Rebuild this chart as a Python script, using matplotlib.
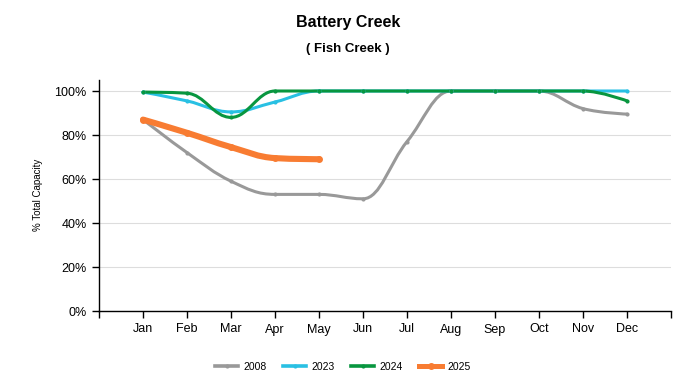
#!/usr/bin/env python3
"""Battery Creek reservoir capacity by month."""

import matplotlib

matplotlib.use("Agg")
import matplotlib.pyplot as plt
import numpy as np
from matplotlib.lines import Line2D
from matplotlib.path import Path
from matplotlib.patches import PathPatch

plt.rcParams["font.family"] = ["Liberation Sans", "DejaVu Sans"]

months = ["Jan", "Feb", "Mar", "Apr", "May", "Jun", "Jul", "Aug", "Sep", "Oct", "Nov", "Dec"]
pct_2008 = [87, 72, 59, 53, 53, 51, 77, 100, 100, 100, 92, 89.5]
pct_2023 = [99.5, 95.5, 90.5, 95, 100, 100, 100, 100, 100, 100, 100, 100]
pct_2024 = [99.5, 99, 88, 100, 100, 100, 100, 100, 100, 100, 100, 95.5]
pct_2025 = [87, 81, 74.5, 69.5, 69]

series = [
    ("2008", pct_2008, "#999999", 2.2),
    ("2023", pct_2023, "#29c0e3", 2.2),
    ("2024", pct_2024, "#08963f", 2.2),
    ("2025", pct_2025, "#f87c32", 4.4),
]


def spline_path(xs, ys, smoothing=1.5):
    # smooth curve through the points, in the style of a charting spline
    denom = smoothing + 1
    n = len(xs)
    left = [None] * n
    right = [None] * n
    for i in range(1, n - 1):
        px, py = xs[i], ys[i]
        lx, ly = xs[i - 1], ys[i - 1]
        nx, ny = xs[i + 1], ys[i + 1]
        lcx = (smoothing * px + lx) / denom
        lcy = (smoothing * py + ly) / denom
        rcx = (smoothing * px + nx) / denom
        rcy = (smoothing * py + ny) / denom
        if rcx != lcx:
            corr = (rcy - lcy) * (rcx - px) / (rcx - lcx) + py - rcy
            lcy += corr
            rcy += corr
        if lcy > max(ly, py):
            lcy = max(ly, py)
            rcy = 2 * py - lcy
        elif lcy < min(ly, py):
            lcy = min(ly, py)
            rcy = 2 * py - lcy
        if rcy > max(py, ny):
            rcy = max(py, ny)
            lcy = 2 * py - rcy
        elif rcy < min(py, ny):
            rcy = min(py, ny)
            lcy = 2 * py - rcy
        left[i] = (lcx, lcy)
        right[i] = (rcx, rcy)
    verts = [(xs[0], ys[0])]
    codes = [Path.MOVETO]
    for i in range(1, n):
        c1 = right[i - 1] if right[i - 1] is not None else (xs[i - 1], ys[i - 1])
        c2 = left[i] if left[i] is not None else (xs[i], ys[i])
        verts += [c1, c2, (xs[i], ys[i])]
        codes += [Path.CURVE4] * 3
    return Path(verts, codes)


fig = plt.figure(figsize=(6.96, 3.92), dpi=100)
ax = fig.add_axes([99 / 696, 1 - 311 / 392, 572 / 696, 231 / 392])

handles = []
for name, vals, color, lw in series:
    xs = np.arange(1, len(vals) + 1, dtype=float)
    ys = np.array(vals, dtype=float)
    patch = PathPatch(spline_path(xs, ys), facecolor="none", edgecolor=color,
                      linewidth=lw, capstyle="round", joinstyle="round", zorder=3)
    ax.add_patch(patch)
    ax.plot(xs, ys, linestyle="none", marker="o", markersize=lw * 0.9,
            color=color, zorder=4)
    handles.append(Line2D([], [], color=color, linewidth=2.6 if lw < 3 else 3.6,
                          marker="o", markersize=2 if lw < 3 else 4, label=name))

ax.set_xlim(0, 13)
ax.set_ylim(0, 105)
ax.set_xticks(range(0, 14))
ax.set_xticklabels([""] + months + [""], fontsize=9)
ax.set_yticks(range(0, 101, 20))
ax.set_yticklabels([f"{v}%" for v in range(0, 101, 20)], fontsize=9)
ax.tick_params(axis="both", length=5, width=1, color="black", pad=4)
ax.grid(axis="y", color="#dddddd", linewidth=0.8, zorder=0)
ax.set_axisbelow(True)
for side in ("top", "right"):
    ax.spines[side].set_visible(False)
for side in ("left", "bottom"):
    ax.spines[side].set_color("black")
    ax.spines[side].set_linewidth(1)

fig.text(38 / 696, 1 - 195 / 392, "% Total Capacity", rotation=90,
         ha="center", va="center", fontsize=7)
fig.text(0.5, 1 - 22 / 392, "Battery Creek", ha="center", va="center",
         fontsize=11.5, fontweight="bold")
fig.text(0.5, 1 - 49 / 392, "( Fish Creek )", ha="center", va="center",
         fontsize=9.5, fontweight="bold")

fig.legend(handles=handles, loc="center", bbox_to_anchor=(343 / 696, 1 - 367 / 392),
           ncol=4, frameon=False, fontsize=7.5, handlelength=2.2,
           columnspacing=1.6, handletextpad=0.5)

fig.savefig("out.png", dpi=100)
plt.close(fig)
